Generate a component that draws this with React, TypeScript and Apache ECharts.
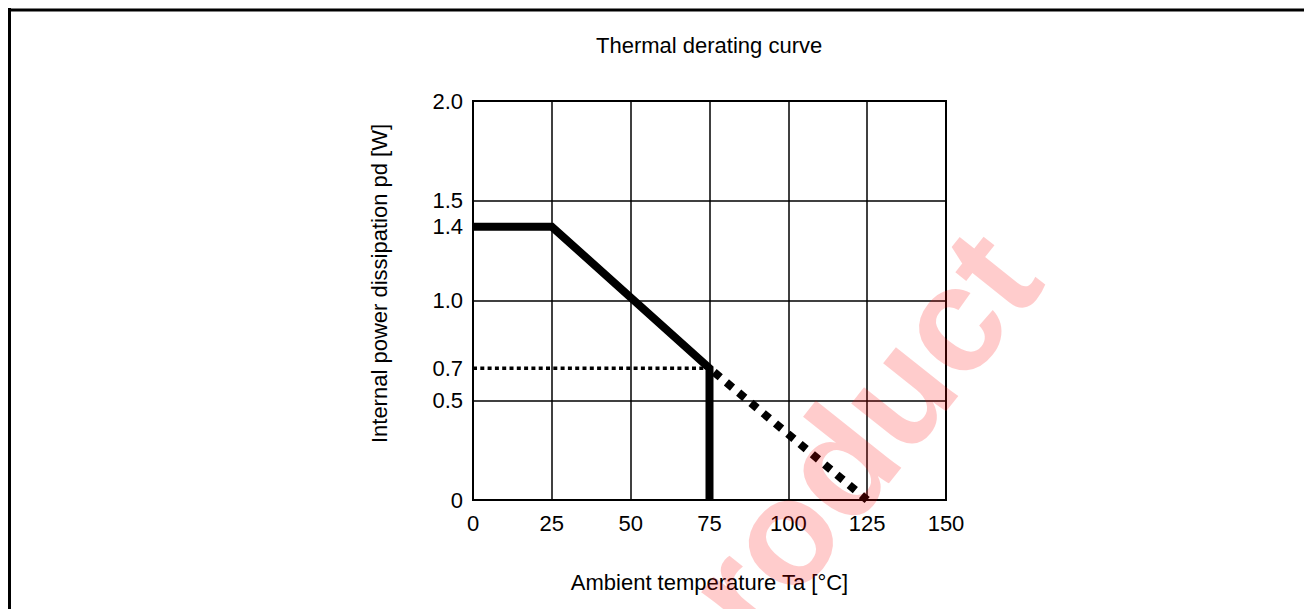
import React, { useEffect, useRef } from "react";
import * as echarts from "echarts";

const FONT = "'Liberation Sans', Arial, sans-serif";

const xTicks = [0, 25, 50, 75, 100, 125, 150];
// y tick positions as drawn in the picture, and the labels printed at them
const yTickValues = [0, 0.5, 0.66, 1.0, 1.37, 1.5, 2.0];
const yTickLabels = ["0", "0.5", "0.7", "1.0", "1.4", "1.5", "2.0"];

// Solid rated curve: flat, derating slope, then vertical drop at 75 °C
const ratedCurve: [number, number][] = [
  [0, 1.37],
  [25, 1.37],
  [75, 0.66],
  [75, 0],
];
// Dotted reference level at "0.7" W
const refLevel: [number, number][] = [
  [0, 0.66],
  [75, 0.66],
];
// Dotted extension of derating slope
const extension: [number, number][] = [
  [75, 0.66],
  [125, 0],
];

export default function App() {
  const ref = useRef<HTMLDivElement>(null);
  useEffect(() => {
    if (!ref.current) return;
    const chart = echarts.init(ref.current, null, { renderer: "svg" });
    const fmtY = (v: number) => {
      const i = yTickValues.findIndex((t) => Math.abs(t - v) < 1e-6);
      return i >= 0 ? yTickLabels[i] : "";
    };
    chart.setOption({
      animation: false,
      backgroundColor: "#fff",
      title: {
        text: "Thermal derating curve",
        left: 583,
        top: 21,
        textStyle: { fontFamily: FONT, fontSize: 22, fontWeight: "normal", color: "#000" },
      },
      grid: {
        left: 465,
        top: 93,
        width: 473,
        height: 399,
        show: true,
        borderColor: "#000",
        borderWidth: 2,
        backgroundColor: "transparent",
        outerBoundsMode: "none",
      },
      xAxis: {
        type: "value",
        min: 0,
        max: 150,
        interval: 25,
        name: "Ambient temperature Ta [°C]",
        nameLocation: "middle",
        nameGap: 71,
        nameTextStyle: { fontFamily: FONT, fontSize: 22, color: "#000" },
        axisLine: { show: true, lineStyle: { color: "#000", width: 2 } },
        axisTick: { show: false },
        axisLabel: {
          fontFamily: FONT,
          fontSize: 22,
          color: "#000",
          margin: 12,
          formatter: (v: number) => (xTicks.includes(v) ? String(v) : ""),
        },
        splitLine: { show: true, lineStyle: { color: "#000", width: 1.5 } },
      },
      yAxis: [
        {
          type: "value",
          min: 0,
          max: 2,
          name: "Internal power dissipation pd [W]",
          nameLocation: "middle",
          nameGap: 83,
          nameTextStyle: { fontFamily: FONT, fontSize: 22, color: "#000", padding: [0, 0, 0, 34] },
          axisLine: { show: true, lineStyle: { color: "#000", width: 2 } },
          axisTick: { show: false },
          axisLabel: {
            fontFamily: FONT,
            fontSize: 22,
            color: "#000",
            margin: 10,
            customValues: yTickValues,
            formatter: fmtY,
          },
          splitLine: { show: false },
        },
        {
          type: "value",
          min: 0,
          max: 2,
          interval: 0.5,
          position: "left",
          axisLine: { show: false },
          axisTick: { show: false },
          axisLabel: { show: false },
          splitLine: { show: true, lineStyle: { color: "#000", width: 1.5 } },
        },
      ],
      series: [
        {
          type: "line",
          data: refLevel,
          showSymbol: false,
          symbol: "none",
          lineStyle: { color: "#000", width: 3.5, type: [4, 3.3] },
          z: 3,
        },
        {
          type: "line",
          data: ratedCurve,
          showSymbol: false,
          symbol: "none",
          lineStyle: { color: "#000", width: 8, join: "miter" },
          z: 4,
        },
        {
          type: "line",
          data: extension,
          showSymbol: false,
          symbol: "none",
          lineStyle: { color: "#000", width: 8, type: [8, 8], dashOffset: -6 },
          z: 4,
        },
      ],
      graphic: [
        {
          type: "line",
          shape: { x1: 0, y1: 2, x2: 1304, y2: 2 },
          style: { stroke: "#000", lineWidth: 3 },
          z: 10,
        },
        {
          type: "line",
          shape: { x1: 1.5, y1: 0, x2: 1.5, y2: 601 },
          style: { stroke: "#000", lineWidth: 3 },
          z: 10,
        },
        {
          type: "text",
          x: 825,
          y: 462,
          rotation: 0.9,
          z: 100,
          silent: true,
          style: {
            text: "product",
            fill: "rgba(255,0,0,0.2)",
            font: "bold 150px 'Liberation Sans', Arial, sans-serif",
            textAlign: "center",
            textVerticalAlign: "middle",
          },
        },
      ],
    });
    return () => chart.dispose();
  }, []);
  return <div ref={ref} style={{ width: 1304, height: 601 }} />;
}
